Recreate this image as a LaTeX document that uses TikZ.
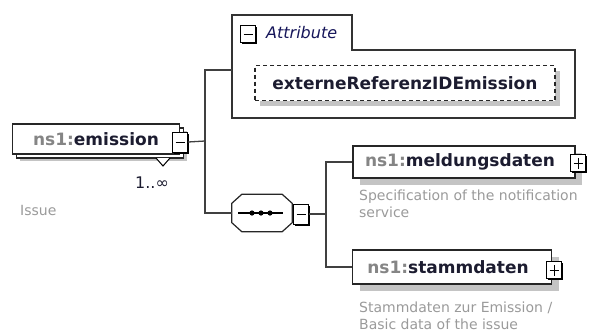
\documentclass[tikz,border=0pt]{standalone}
\usepackage{fontspec}
\setmainfont{DejaVu Sans}
\usetikzlibrary{positioning,shadows}

\definecolor{nsgray}{HTML}{858585}
\definecolor{namedark}{HTML}{1C1C30}
\definecolor{descgray}{HTML}{9A9A9A}
\definecolor{shadowgray}{HTML}{C4C4C4}

\tikzset{
  every node/.style={inner sep=0pt},
  conn/.style={line width=1.3pt, draw=black!75},
  elembox/.style={draw=black!85, line width=1.2pt, fill=white, minimum height=32pt,
    font=\fontsize{17}{19}\selectfont\bfseries\color{namedark},
    general shadow={fill=shadowgray, shadow xshift=7pt, shadow yshift=-7pt}},
  multibox/.style={elembox,
    general shadow={draw=black!85, line width=1.2pt, fill=white, shadow xshift=4pt, shadow yshift=-4pt}},
  btn/.style={draw=black, line width=1pt, fill=white, minimum width=15pt, minimum height=17pt,
    general shadow={fill=black, shadow xshift=1.5pt, shadow yshift=-1.5pt}},
  minusbtn/.style={btn, path picture={
    \draw[line width=1pt] ([xshift=3pt]path picture bounding box.west) -- ([xshift=-3pt]path picture bounding box.east);}},
  plusbtn/.style={btn, path picture={
    \draw[line width=1pt] ([xshift=3pt]path picture bounding box.west) -- ([xshift=-3pt]path picture bounding box.east)
      ([yshift=3pt]path picture bounding box.south) -- ([yshift=-3pt]path picture bounding box.north);}},
  attrbox/.style={draw=black!85, line width=1.2pt, dash pattern=on 4pt off 3pt, fill=white,
    minimum width=300pt, minimum height=35pt, font=\fontsize{17}{19}\selectfont\bfseries\color{namedark},
    general shadow={fill=shadowgray, shadow xshift=5pt, shadow yshift=-5pt}},
  seqarea/.style={minimum width=60pt, minimum height=37pt},
  seqline/.style={draw=black!85, line width=1.2pt, fill=white},
  desc/.style={align=left, font=\fontsize{14}{17}\selectfont\color{descgray}}
}

\begin{document}
\begin{tikzpicture}[x=1pt,y=-1pt]
\useasboundingbox (0,0) rectangle (592,333);

% attribute group
\draw[line width=1.2pt, draw=black!80] (232,118) -- (232,15) -- (352,15) -- (352,50) -- (575,50) -- (575,118) -- cycle;
\coordinate (attrin) at (232,70);
\node[minusbtn] (attrbtn) at (248,34) {};
\node[anchor=west, font=\fontsize{16}{18}\selectfont\itshape\color{namedark!80!blue}] (attrlabel) at (266,33) {Attribute};
\node[attrbox] (extref) at (405,83) {externeReferenzIDEmission};

% root element
\node[multibox, minimum width=167pt, minimum height=30pt] (emission) at (96,139) {\textcolor{nsgray}{ns1:}emission};
\draw[line width=1pt, fill=white] (156,158) -- (163,166) -- (170,158);
\node[minusbtn, minimum height=20pt] (embtn) at (180,142) {};
\node[font=\fontsize{16}{18}\selectfont\color{namedark}] (occurs) at (152,183) {1..∞};
\node[desc, anchor=west] (emdesc) at (20,210) {Issue};

% sequence
\node[seqarea] (seq) at (262,213) {};
\fill[shadowgray, shift={(6,6)}] ([xshift=10pt]seq.north west) -- ([xshift=-10pt]seq.north east)
  -- ([yshift=-9pt]seq.north east) -- ([yshift=9pt]seq.south east) -- ([xshift=-10pt]seq.south east)
  -- ([xshift=10pt]seq.south west) -- ([yshift=9pt]seq.south west) -- ([yshift=-9pt]seq.north west) -- cycle;
\draw[seqline] ([xshift=10pt]seq.north west) -- ([xshift=-10pt]seq.north east)
  -- ([yshift=-9pt]seq.north east) -- ([yshift=9pt]seq.south east) -- ([xshift=-10pt]seq.south east)
  -- ([xshift=10pt]seq.south west) -- ([yshift=9pt]seq.south west) -- ([yshift=-9pt]seq.north west) -- cycle;
\draw[line width=1.2pt] ([xshift=-24pt]seq.center) -- ([xshift=21pt]seq.center);
\foreach \d in {-10,-1,8}
  \fill ([xshift=\d pt]seq.center) circle (2.6);
\node[minusbtn, minimum height=20pt] (seqbtn) at (301,214) {};

% children
\node[elembox, minimum width=222pt, minimum height=32pt] (meld) at (464,162) {\textcolor{nsgray}{ns1:}meldungsdaten\hspace*{8pt}};
\node[plusbtn] (meldbtn) at (578,163) {};
\node[desc, anchor=north west] (melddesc) at (359,190) {Specification of the notification\\service};

\node[elembox, minimum width=199pt, minimum height=34pt] (stamm) at (452,267) {\textcolor{nsgray}{ns1:}stammdaten\hspace*{8pt}};
\node[plusbtn] (stammbtn) at (554,270) {};
\node[desc, anchor=north west] (stammdesc) at (359,302) {Stammdaten zur Emission /\\Basic data of the issue};

% connectors
\coordinate (bus1) at (205,141);
\coordinate (bus2) at (326,214);
\draw[conn] (embtn.east) -- (bus1);
\draw[conn] (attrin) -| (bus1);
\draw[conn] (seq.west) -| (bus1);
\draw[conn] (seqbtn.east) -- (bus2);
\draw[conn] (meld.west) -| (bus2);
\draw[conn] (stamm.west) -| (bus2);
\end{tikzpicture}
\end{document}
